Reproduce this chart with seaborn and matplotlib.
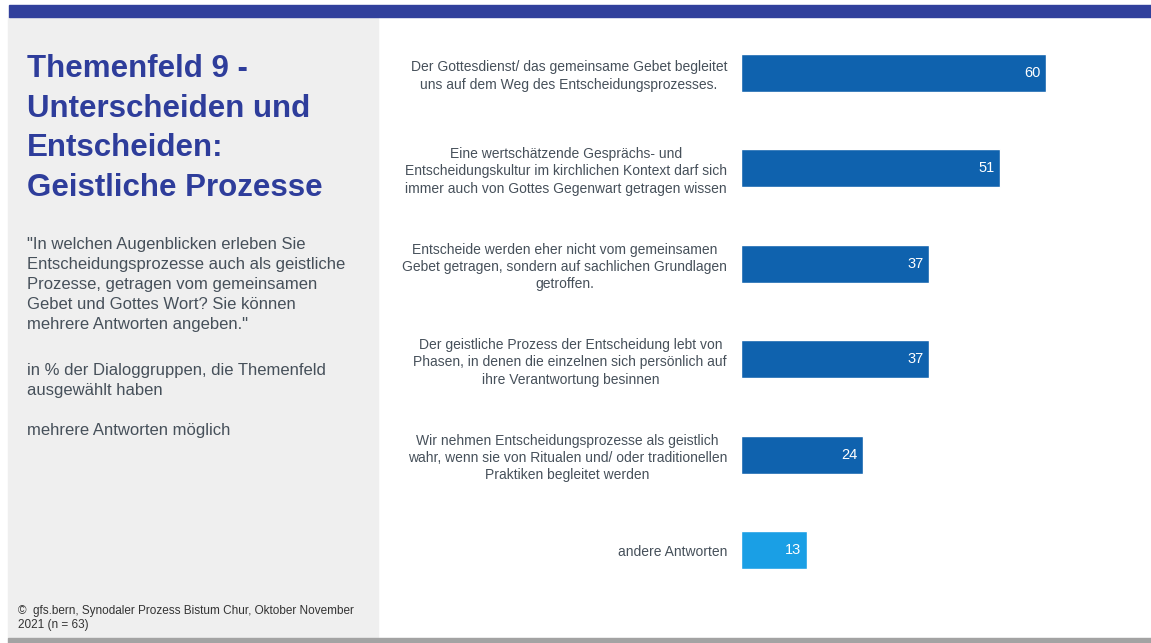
import matplotlib
matplotlib.use("Agg")
import matplotlib.pyplot as plt
from matplotlib.patches import Rectangle
import seaborn as sns
import pandas as pd

sns.set_style("white")
plt.rcParams["font.family"] = ["Liberation Sans", "DejaVu Sans"]

# Data
answers = [
    "Der Gottesdienst/ das gemeinsame Gebet begleitet\nuns auf dem Weg des Entscheidungsprozesses.",
    "Eine wertschätzende Gesprächs- und\nEntscheidungskultur im kirchlichen Kontext darf sich\nimmer auch von Gottes Gegenwart getragen wissen",
    "Entscheide werden eher nicht vom gemeinsamen\nGebet getragen, sondern auf sachlichen Grundlagen\ngetroffen.",
    "Der geistliche Prozess der Entscheidung lebt von\nPhasen, in denen die einzelnen sich persönlich auf\nihre Verantwortung besinnen",
    "Wir nehmen Entscheidungsprozesse als geistlich\nwahr, wenn sie von Ritualen und/ oder traditionellen\nPraktiken begleitet werden",
    "andere Antworten",
]
percent = [60, 51, 37, 37, 24, 13]
bar_colors = ["#0f62ae", "#0f62ae", "#0f62ae", "#0f62ae", "#0f62ae", "#1a9fe5"]

df = pd.DataFrame({"answer": answers, "percent": percent})

W, H = 1151, 643
fig = plt.figure(figsize=(W / 100, H / 100), dpi=100)

# background panels
fig.patches.append(Rectangle((8 / W, 1 - 638 / H), 370 / W, 621 / H,
                             transform=fig.transFigure, color="#efefef", zorder=0))
fig.patches.append(Rectangle((9 / W, 1 - 17 / H), (W - 9) / W, 12 / H,
                             transform=fig.transFigure, color="#31409c", zorder=0))
fig.patches.append(Rectangle((8 / W, 0), (W - 8) / W, 5 / H,
                             transform=fig.transFigure, color="#a3a3a3", zorder=0))

# left text
fig.text(27 / W, 1 - 54 / H, "Themenfeld 9 -\nUnterscheiden und\nEntscheiden:\nGeistliche Prozesse",
         fontsize=22.5, fontweight="bold", color="#2e3d9b", va="top", ha="left", linespacing=1.42)
text_color = "#46505a"
fig.text(27 / W, 1 - 237 / H,
         "\"In welchen Augenblicken erleben Sie\nEntscheidungsprozesse auch als geistliche\n"
         "Prozesse, getragen vom gemeinsamen\nGebet und Gottes Wort? Sie können\n"
         "mehrere Antworten angeben.\"",
         fontsize=12, color=text_color, va="top", ha="left", linespacing=1.42)
fig.text(27 / W, 1 - 363 / H, "in % der Dialoggruppen, die Themenfeld\nausgewählt haben",
         fontsize=12, color=text_color, va="top", ha="left", linespacing=1.42)
fig.text(27 / W, 1 - 423 / H, "mehrere Antworten möglich",
         fontsize=12, color=text_color, va="top", ha="left")
fig.text(18 / W, 1 - 605 / H, "©  gfs.bern, Synodaler Prozess Bistum Chur, Oktober November\n2021 (n = 63)",
         fontsize=8.5, color="#333333", va="top", ha="left", linespacing=1.2)

# bar chart
x0 = 741
px_per_unit = 305 / 60
ax = fig.add_axes([x0 / W, 1 - 598 / H, (W - x0) / W, 573 / H])
sns.barplot(data=df, x="percent", y="answer", hue="answer", palette=bar_colors,
            legend=False, width=0.4, ax=ax, saturation=1)
ax.set_xlim(0, (W - x0) / px_per_unit)
ax.set_ylim(5.5, -0.5)
ax.set_xlabel("")
ax.set_ylabel("")
ax.set_xticks([])
ax.tick_params(axis="y", length=0, pad=10)
ax.set_yticks(range(len(answers)))
ax.set_yticklabels(answers, fontsize=10, color=text_color, ha="right",
                   multialignment="center", linespacing=1.3)
for s in ax.spines.values():
    s.set_visible(False)
ax.patch.set_alpha(0)

for i, v in enumerate(percent):
    ax.text(v - 1.1, i, str(v), color="white", fontsize=10.5, ha="right", va="center")

fig.savefig("out.png", dpi=100)
